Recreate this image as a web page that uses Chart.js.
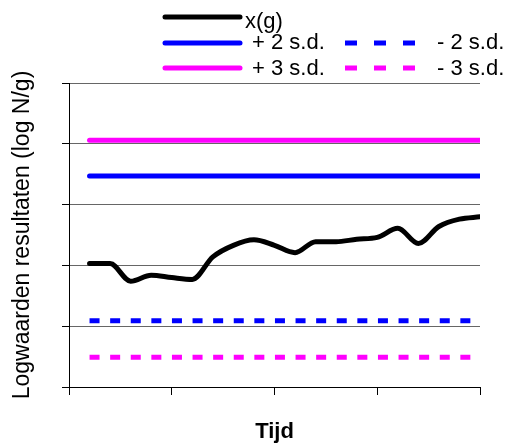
<!DOCTYPE html>
<html>
<head>
<meta charset="utf-8">
<script src="https://cdn.jsdelivr.net/npm/chart.js@4.4.1/dist/chart.umd.min.js"></script>
<style>
  html, body { margin: 0; padding: 0; background: #fff; }
  #wrap { width: 506px; height: 448px; }
</style>
</head>
<body>
<div id="wrap"><canvas id="qcChart" width="506" height="448"></canvas></div>
<script>
// data
const tijd = [1, 2, 3, 4, 5, 6, 7, 8, 9, 10, 11, 12, 13, 14, 15, 16, 17, 18, 19, 20];
const xg = [2.03, 2.03, 1.74, 1.84, 1.80, 1.77, 2.14, 2.33, 2.42, 2.33,
            2.21, 2.39, 2.39, 2.43, 2.46, 2.61, 2.36, 2.64, 2.76, 2.80];
const seriesLabels = ['x(g)', '+ 2 s.d.', '- 2 s.d.', '+ 3 s.d.', '- 3 s.d.'];
const limitValues = [3.47, 1.09, 4.06, 0.49]; // +2sd, -2sd, +3sd, -3sd
const yTicks = [0, 1, 2, 3, 4, 5];
const xTicks = [0, 5, 10, 15, 20];

const FONT = "'Liberation Sans', Arial, sans-serif";
Chart.defaults.font.family = FONT;
Chart.defaults.color = '#000';

function flatLine(v) {
  return [{ x: tijd[0], y: v }, { x: tijd[tijd.length - 1], y: v }];
}

const blue = '#0000ff';
const magenta = '#ff00ff';
const plotDash = [10, 10.6];

const datasets = [
  {
    label: seriesLabels[0],
    data: tijd.map((t, i) => ({ x: t, y: xg[i] })),
    borderColor: '#000', borderWidth: 5, cubicInterpolationMode: 'monotone',
    borderCapStyle: 'round', borderJoinStyle: 'round'
  },
  {
    label: seriesLabels[1], data: flatLine(limitValues[0]),
    borderColor: blue, borderWidth: 5, borderCapStyle: 'round'
  },
  {
    label: seriesLabels[2], data: flatLine(limitValues[1]),
    borderColor: blue, borderWidth: 5, borderDash: plotDash
  },
  {
    label: seriesLabels[3], data: flatLine(limitValues[2]),
    borderColor: magenta, borderWidth: 5, borderCapStyle: 'round'
  },
  {
    label: seriesLabels[4], data: flatLine(limitValues[3]),
    borderColor: magenta, borderWidth: 5, borderDash: plotDash
  }
];

// legend slots: sample line start/end and text position, same order as datasets
const legendSlots = [
  { x0: 165, x1: 240, y: 17, tx: 245, ty: 28 },
  { x0: 165, x1: 240, y: 43, tx: 252, ty: 48.5 },
  { x0: 345, x1: 416, y: 43, tx: 437, ty: 48.5 },
  { x0: 165, x1: 240, y: 68, tx: 252, ty: 75 },
  { x0: 345, x1: 416, y: 68, tx: 437, ty: 75 }
];

const gridLegend = {
  id: 'gridLegend',
  afterDraw(chart) {
    const ctx = chart.ctx;
    ctx.save();
    chart.data.datasets.forEach((ds, i) => {
      const s = legendSlots[i];
      ctx.beginPath();
      ctx.strokeStyle = ds.borderColor;
      ctx.lineWidth = ds.borderWidth;
      ctx.lineCap = ds.borderDash ? 'butt' : 'round';
      ctx.setLineDash(ds.borderDash ? [12, 17] : []);
      ctx.moveTo(s.x0, s.y);
      ctx.lineTo(s.x1, s.y);
      ctx.stroke();
      ctx.setLineDash([]);
      ctx.fillStyle = '#000';
      ctx.font = '22px ' + FONT;
      ctx.textBaseline = 'alphabetic';
      ctx.fillText(ds.label, s.tx, s.ty);
    });
    ctx.restore();
  }
};

new Chart(document.getElementById('qcChart'), {
  type: 'line',
  data: { datasets: datasets },
  options: {
    responsive: false,
    animation: false,
    layout: { padding: { top: 83, right: 26, left: 0, bottom: 0 } },
    elements: { point: { radius: 0 } },
    plugins: { legend: { display: false }, tooltip: { enabled: false } },
    scales: {
      x: {
        type: 'linear', min: xTicks[0], max: xTicks[xTicks.length - 1],
        afterBuildTicks: s => { s.ticks = xTicks.map(v => ({ value: v })); },
        ticks: { display: false },
        grid: { drawOnChartArea: false, drawTicks: true, tickLength: 8, color: '#000' },
        border: { color: '#000', width: 1 },
        title: {
          display: true, text: 'Tijd', color: '#000',
          font: { family: FONT, size: 22, weight: 'bold' },
          padding: { top: 0, bottom: 3 }
        },
        afterFit: s => { s.height = 61; }
      },
      y: {
        min: yTicks[0], max: yTicks[yTicks.length - 1],
        afterBuildTicks: s => { s.ticks = yTicks.map(v => ({ value: v })); },
        ticks: { display: false },
        grid: { color: '#666', lineWidth: 1, drawTicks: true, tickLength: 7, tickColor: '#000' },
        border: { color: '#000', width: 1 },
        title: {
          display: true, text: 'Logwaarden resultaten (log N/g)', color: '#000',
          font: { family: FONT, size: 23 },
          padding: { top: 9, bottom: 0 }
        },
        afterFit: s => { s.width = 69; }
      }
    }
  },
  plugins: [gridLegend]
});
</script>
</body>
</html>
